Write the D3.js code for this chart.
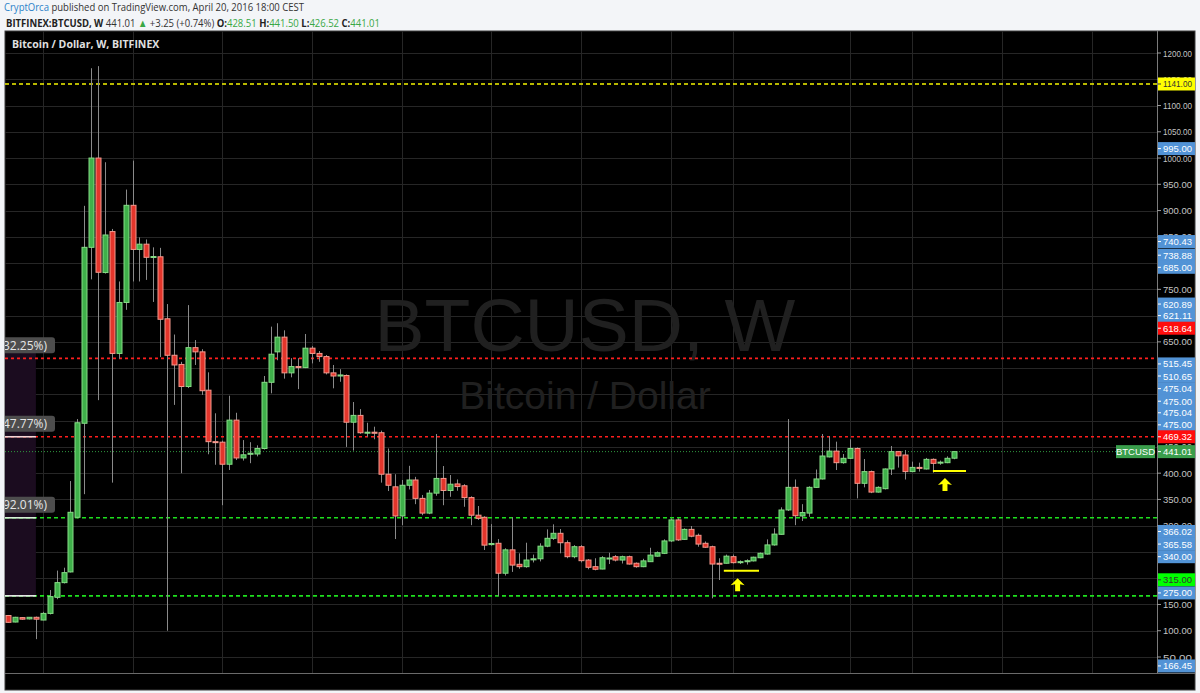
<!DOCTYPE html>
<html>
<head>
<meta charset="utf-8">
<script src="https://cdn.jsdelivr.net/npm/d3@7"></script>
<style>
  body { margin: 0; background: #f3f5f8; }
  svg { display: block; }
</style>
</head>
<body>
<svg id="chart" width="1200" height="693"></svg>
<script>
// weekly candles, BITFINEX:BTCUSD, first bar = week of 2013-09-02
const startWeek = '2013-09-02'
const open = [129, 116.6, 125, 122.5, 125.6, 120.4, 133, 163.6, 191.6, 212, 316, 495, 830, 1000, 782, 860, 628, 725, 910, 826,
  836, 812, 812, 694, 624.5, 607, 565, 639, 631, 558, 460, 459, 417, 501, 429, 436, 436.5, 447, 573, 631,
  659, 591, 603, 601, 638, 628, 622, 591, 585, 586, 497, 510, 477, 478, 477, 398, 374, 318.5, 377, 387,
  352, 324, 362, 390, 367, 379.5, 376, 353.5, 320, 316, 264, 266.5, 209.5, 254, 226.5, 222, 235, 237, 261, 276,
  285.5, 267.6, 241, 260, 234.6, 222, 217.5, 238, 241, 234.6, 241, 228.5, 222, 231.5, 242, 247.4, 271, 311, 274, 293,
  281.7, 266.5, 260, 228.5, 228.5, 241, 231, 233, 233, 239, 246, 263.4, 283.6, 330, 373, 318.5, 324, 373, 389, 431,
  442, 420, 428.3, 447, 380.7, 403, 364, 370.5, 408, 441, 434.6, 403, 411, 408, 426.3, 420, 420, 428.51]
const high = [130, 126.5, 126, 126, 127, 136, 177.5, 214.5, 220, 385, 503, 909, 1171, 1175, 992, 865, 765, 940, 995, 849,
  845, 830, 829, 722, 664, 612, 720, 653.5, 636, 592, 514, 462, 547.5, 515, 463, 459, 453, 585, 679, 685.5,
  672, 619, 619, 665, 642, 632.6, 625, 606, 598, 588, 535.5, 522, 496, 488.5, 481, 447, 398, 387, 414, 393,
  358.5, 368, 474.6, 413.6, 396.5, 388, 379, 356, 337.5, 318, 303, 274.5, 257, 316, 247.4, 267.6, 245, 266.5, 293, 302.6,
  293.7, 272, 263, 263, 236.5, 238, 242, 248.5, 244, 243, 243, 230, 237, 258, 251, 274, 314, 314, 295, 299.4,
  285, 270, 262, 238, 245, 245, 234, 236, 241, 249, 274, 295, 335, 503, 388, 341, 375, 407, 474.6, 470.8,
  460, 436.5, 464.5, 449, 427, 405, 375, 409, 451.7, 442, 444, 422, 420, 429, 428, 424, 432, 441.5]
const low = [115, 116, 121, 121.5, 84, 120, 131, 160, 190, 211, 314, 360, 769, 539, 780, 382, 618, 711, 765, 765,
  768, 726, 621, 100, 530, 400, 562, 606, 549, 436, 416, 339, 406, 425, 424, 419, 432, 445, 552, 615,
  580, 582.5, 560, 600, 609, 612, 588, 561.6, 574, 450, 443, 475, 469.5, 464.5, 382, 366, 274.6, 301, 369, 341,
  320, 322, 357, 339, 355, 366.6, 336, 301, 311, 253.7, 262, 166, 205, 212, 218, 220, 230, 232, 259, 273,
  247.4, 238, 238, 230, 217, 215, 217, 227, 232, 228, 226, 220, 221, 231, 241, 246, 269, 271, 273, 278,
  260, 258, 161.7, 196.6, 228, 228, 227, 226, 232, 238, 245, 262, 283, 328, 301, 309, 317, 372, 388, 430,
  406, 418, 427, 352, 373, 362, 363, 369, 396.5, 410.6, 388, 402, 403, 407, 401, 416, 419, 426.52]
const close = [116, 125.6, 122, 125.6, 122, 133, 165, 191.6, 210.6, 325.5, 496, 830, 1000, 782.5, 853.5, 628, 725, 910, 826, 836,
  811, 812.5, 693, 624.5, 606, 565, 639, 631, 557, 460, 459.5, 417, 501, 429, 435, 438, 447, 573, 626.5, 659,
  591, 603, 601, 638, 628, 622, 591, 585, 587, 497, 510, 477, 478, 476, 398, 377, 318.5, 377, 387, 352,
  324, 362, 390, 367, 379, 374.5, 353.5, 320, 314, 263, 266, 209.5, 254, 225, 222, 234.6, 237, 261, 276, 285.5,
  267.6, 241, 260, 233.4, 220.8, 217, 239, 238.5, 234.6, 241, 227, 222, 233, 244, 248.5, 271, 311, 273, 293, 280,
  265, 259, 227, 228, 242, 229.6, 231.5, 233.3, 240, 247.4, 263.4, 284, 329.9, 373, 319, 325, 373, 389, 432.7, 442,
  420, 428.3, 447, 380.7, 403, 364, 373, 408, 441, 433, 403, 411, 410, 426.3, 418.7, 421, 428.3, 441.01]

const priceTicks = [50, 100, 150, 200, 250, 300, 350, 400, 450, 500, 550, 600, 650, 700, 750, 800, 850, 900, 950, 1000, 1050, 1100, 1150, 1200]
const timeGridDates = ['2013-10-07', '2014-01-06', '2014-04-07', '2014-07-07', '2014-10-06', '2015-01-05', '2015-04-06',
  '2015-07-06', '2015-09-07', '2016-01-04', '2016-03-07', '2016-06-06', '2016-09-05']

// horizontal levels drawn on the chart
const levelPrice = [1141, 618.64, 469.32, 441.01, 315, 166.45]
const levelKind = ['yellow', 'red', 'red', 'last', 'green', 'green']
// fib % labels at the left edge
const fibPct = ['(32.25%)', '(47.77%)', '(92.01%)']
const fibPrice = [618.64, 469.32, 315]
const fibLinePrice = [469.32, 315, 166.45]
const fibLineKind = ['red', 'green', 'white']

// price scale labels (text, price where it sits on the scale, kind)
const axisLabelText = ['1141.00', '995.00', '740.43', '738.88', '685.00', '620.89', '621.11', '618.64', '515.45', '510.65',
  '475.04', '475.00', '475.04', '475.00', '469.32', '441.01', '366.02', '365.58', '340.00', '315.00', '275.00', '166.45']
const axisLabelAt = [1141, 1018, 841, 815, 792, 722, 700, 676, 608, 585,
  561, 537, 515, 492, 469.32, 441.01, 289, 265, 241, 197, 172, 33]
const axisLabelKind = ['yellow', 'blue', 'blue', 'blue', 'blue', 'blue', 'blue', 'red', 'blue', 'blue',
  'blue', 'blue', 'blue', 'blue', 'red', 'last', 'blue', 'blue', 'blue', 'lime', 'blue', 'blue']

// yellow support marks + arrows (bar index, price)
const supportFrom = [103.7, 134]
const supportTo = [108.8, 138.8]
const supportPrice = [214, 404]
const arrowIdx = [105.7, 135.75]
const arrowPrice = [200, 391]

const levelStyle = {
  yellow: { stroke: '#f5f500', dash: '4,3', width: 1.6 },
  red: { stroke: '#ff1e1e', dash: '3,3', width: 1.6 },
  last: { stroke: '#2f9a3f', dash: '1,2', width: 1 },
  green: { stroke: '#1ee01e', dash: '4,3', width: 1.6 },
}
const labelStyle = {
  yellow: { fill: '#ffff00', text: '#333' },
  blue: { fill: '#5293d6', text: '#fff' },
  red: { fill: '#ff0d0d', text: '#fff' },
  last: { fill: '#3a9e4c', text: '#fff' },
  lime: { fill: '#00ff00', text: '#333' },
}

const svg = d3.select('#chart')
const panel = { left: 5, top: 31, right: 1195, bottom: 690 }
const plot = { left: 5, top: 31, right: 1157, bottom: 673 }

const x = d3.scaleLinear().domain([-0.48, 166.48]).range([plot.left, plot.right])
const y = d3.scaleLinear().domain([50, 1200]).range([657, 53])

const parse = d3.timeParse('%Y-%m-%d')
const t0 = parse(startWeek)
const gridIdx = timeGridDates.map((d) => d3.timeMonday.count(t0, parse(d)))

// header
const head1 = svg.append('text').attr('x', 4).attr('y', 11)
  .style('font-family', '"Open Sans", sans-serif').style('font-size', '11px')
  .attr('textLength', 300).attr('lengthAdjust', 'spacingAndGlyphs')
head1.append('tspan').attr('fill', '#2c82c9').text('CryptOrca')
head1.append('tspan').attr('fill', '#333').text(' published on TradingView.com, April 20, 2016 18:00 CEST')

const head2 = svg.append('text').attr('x', 6).attr('y', 27)
  .style('font-family', '"Open Sans", sans-serif').style('font-size', '11px')
  .attr('textLength', 374).attr('lengthAdjust', 'spacingAndGlyphs')
const green = '#3aa845'
const parts = [
  ['BITFINEX:BTCUSD, W', '#222', 700], [' 441.01 ', '#333', 400], ['\u25B2', green, 400],
  [' +3.25 (+0.74%) ', '#333', 400], ['O:', '#222', 700], ['428.51', green, 400],
  [' H:', '#222', 700], ['441.50', green, 400], [' L:', '#222', 700], ['426.52', green, 400],
  [' C:', '#222', 700], ['441.01', green, 400],
]
parts.forEach((p) => head2.append('tspan').attr('fill', p[1]).style('font-weight', p[2]).text(p[0]))

// panel
svg.append('rect').attr('x', panel.left).attr('y', panel.top)
  .attr('width', panel.right - panel.left).attr('height', panel.bottom - panel.top)
  .attr('fill', '#000').attr('stroke', '#3c3c3c').attr('stroke-width', 1)

svg.append('defs').append('clipPath').attr('id', 'plotClip')
  .append('rect').attr('x', plot.left).attr('y', plot.top)
  .attr('width', plot.right - plot.left).attr('height', plot.bottom - plot.top)

const g = svg.append('g').attr('clip-path', 'url(#plotClip)')

// grid
g.append('g').selectAll('line').data(priceTicks).enter().append('line')
  .attr('x1', plot.left).attr('x2', plot.right)
  .attr('y1', (d) => Math.round(y(d)) + 0.5).attr('y2', (d) => Math.round(y(d)) + 0.5)
  .attr('stroke', '#262626').attr('stroke-width', 1)
g.append('g').selectAll('line').data(gridIdx).enter().append('line')
  .attr('x1', (d) => Math.round(x(d)) + 0.5).attr('x2', (d) => Math.round(x(d)) + 0.5)
  .attr('y1', plot.top).attr('y2', plot.bottom)
  .attr('stroke', '#262626').attr('stroke-width', 1)

// watermark
const wmX = (plot.left + plot.right) / 2 + 4
g.append('text').attr('x', wmX).attr('y', 351).attr('text-anchor', 'middle')
  .style('font-family', '"Liberation Sans", Arial, sans-serif').style('font-size', '75px')
  .attr('fill', '#202020').text('BTCUSD, W')
g.append('text').attr('x', wmX).attr('y', 409).attr('text-anchor', 'middle')
  .style('font-family', '"Liberation Sans", Arial, sans-serif').style('font-size', '39px')
  .attr('fill', '#202020').text('Bitcoin / Dollar')

// fib zone at the left edge
g.append('rect').attr('x', plot.left).attr('y', y(650))
  .attr('width', x(4) - plot.left).attr('height', y(166.45) - y(650))
  .attr('fill', '#1b0c1f')

// levels
levelPrice.forEach((p, i) => {
  const s = levelStyle[levelKind[i]]
  g.append('line').attr('x1', plot.left).attr('x2', plot.right)
    .attr('y1', y(p)).attr('y2', y(p))
    .attr('stroke', s.stroke).attr('stroke-width', s.width)
    .attr('stroke-dasharray', s.dash)
})
fibLinePrice.forEach((p, i) => {
  const col = fibLineKind[i] == 'red' ? '#f3d6d6' : fibLineKind[i] == 'green' ? '#d6f0d6' : '#ececec'
  g.append('line').attr('x1', plot.left).attr('x2', x(4))
    .attr('y1', y(p)).attr('y2', y(p))
    .attr('stroke', col).attr('stroke-width', 1.6)
})

// fib % labels
fibPct.forEach((t, i) => {
  const cy = y(fibPrice[i]) - 13
  g.append('rect').attr('x', plot.left - 10).attr('y', cy - 8).attr('width', 60).attr('height', 16)
    .attr('rx', 3).attr('fill', '#4d4d4d')
  g.append('text').attr('x', 47).attr('y', cy + 4.5).attr('text-anchor', 'end')
    .style('font-family', '"Open Sans", sans-serif').style('font-size', '12px')
    .attr('fill', '#e6e6e6').text(t)
})

// candles
const bars = open.map((o, i) => ({ i, o, h: high[i], l: low[i], c: close[i] }))
const candle = g.append('g').selectAll('g').data(bars).enter().append('g')
candle.append('line')
  .attr('x1', (d) => Math.round(x(d.i)) + 0.5).attr('x2', (d) => Math.round(x(d.i)) + 0.5)
  .attr('y1', (d) => y(d.h)).attr('y2', (d) => y(d.l))
  .attr('stroke', '#8a8a8a').attr('stroke-width', 1)
candle.append('rect')
  .attr('x', (d) => Math.round(x(d.i)) - 2)
  .attr('y', (d) => y(Math.max(d.o, d.c)))
  .attr('width', 5)
  .attr('height', (d) => Math.max(1, Math.abs(y(d.o) - y(d.c))))
  .attr('fill', (d) => (d.c >= d.o ? '#3fb04a' : '#e3352b'))
  .attr('stroke', (d) => (d.c >= d.o ? '#86dc86' : '#f59a8e'))
  .attr('stroke-width', 1)

// yellow support lines and arrows
supportPrice.forEach((p, i) => {
  g.append('line').attr('x1', x(supportFrom[i])).attr('x2', x(supportTo[i]))
    .attr('y1', y(p)).attr('y2', y(p))
    .attr('stroke', '#ffff00').attr('stroke-width', 2)
})
arrowIdx.forEach((ai, i) => {
  const ax = x(ai), ay = y(arrowPrice[i])
  const path = d3.path()
  path.moveTo(ax, ay)
  path.lineTo(ax + 7, ay + 7)
  path.lineTo(ax + 2.5, ay + 6)
  path.lineTo(ax + 2.5, ay + 13)
  path.lineTo(ax - 2.5, ay + 13)
  path.lineTo(ax - 2.5, ay + 6)
  path.lineTo(ax - 7, ay + 7)
  path.closePath()
  g.append('path').attr('d', path.toString()).attr('fill', '#ffff00')
})

// chart title
svg.append('text').attr('x', 12).attr('y', 47.5)
  .style('font-family', '"Open Sans", sans-serif').style('font-size', '10.5px').style('font-weight', 700)
  .attr('fill', '#e0e0e0').text('Bitcoin / Dollar, W, BITFINEX')

// price axis
svg.append('line').attr('x1', plot.right + 0.5).attr('x2', plot.right + 0.5)
  .attr('y1', panel.top).attr('y2', plot.bottom).attr('stroke', '#7a7a7a')
svg.append('line').attr('x1', panel.left).attr('x2', panel.right)
  .attr('y1', plot.bottom + 0.5).attr('y2', plot.bottom + 0.5).attr('stroke', '#6a6a6a')

// a tick label that sits entirely under the coloured price tags is not drawn
const labelBoxes = axisLabelAt.map((p) => [y(p) - 6.5, y(p) + 6.5])
const covered = (v) => labelBoxes.some((b) => v >= b[0] && v <= b[1])
const visibleTicks = priceTicks.filter((t) => !(covered(y(t) - 3.5) && covered(y(t) + 3.5)))

const axisFont = '"Liberation Sans", Arial, sans-serif'
const ticks = svg.append('g').selectAll('g').data(visibleTicks).enter().append('g')
  .attr('transform', (d) => `translate(${plot.right},${y(d)})`)
ticks.append('line').attr('x1', 0).attr('x2', 4).attr('stroke', '#9a9a9a')
ticks.append('text').attr('x', 6).attr('y', 3.5)
  .style('font-family', axisFont).style('font-size', '9.5px')
  .attr('textLength', 29).attr('lengthAdjust', 'spacingAndGlyphs')
  .attr('fill', '#c4c4c4').text((d) => d.toFixed(2))

axisLabelText.forEach((t, i) => {
  const s = labelStyle[axisLabelKind[i]]
  const cy = y(axisLabelAt[i])
  svg.append('rect').attr('x', plot.right + 1).attr('y', cy - 6.5).attr('width', 37).attr('height', 13)
    .attr('fill', s.fill)
  svg.append('line').attr('x1', plot.right + 1).attr('x2', plot.right + 4)
    .attr('y1', cy).attr('y2', cy).attr('stroke', s.text)
  svg.append('text').attr('x', plot.right + 6).attr('y', cy + 3.5)
    .style('font-family', axisFont).style('font-size', '9.5px')
    .attr('textLength', 29).attr('lengthAdjust', 'spacingAndGlyphs')
    .attr('fill', s.text).text(t)
})

// symbol tag on the last price line
const lastY = y(levelPrice[3])
svg.append('rect').attr('x', plot.right - 41).attr('y', lastY - 6.5).attr('width', 39).attr('height', 13)
  .attr('fill', labelStyle.last.fill)
svg.append('text').attr('x', plot.right - 21.5).attr('y', lastY + 3.5).attr('text-anchor', 'middle')
  .style('font-family', axisFont).style('font-size', '9.5px')
  .attr('fill', '#fff').text('BTCUSD')
</script>
</body>
</html>
